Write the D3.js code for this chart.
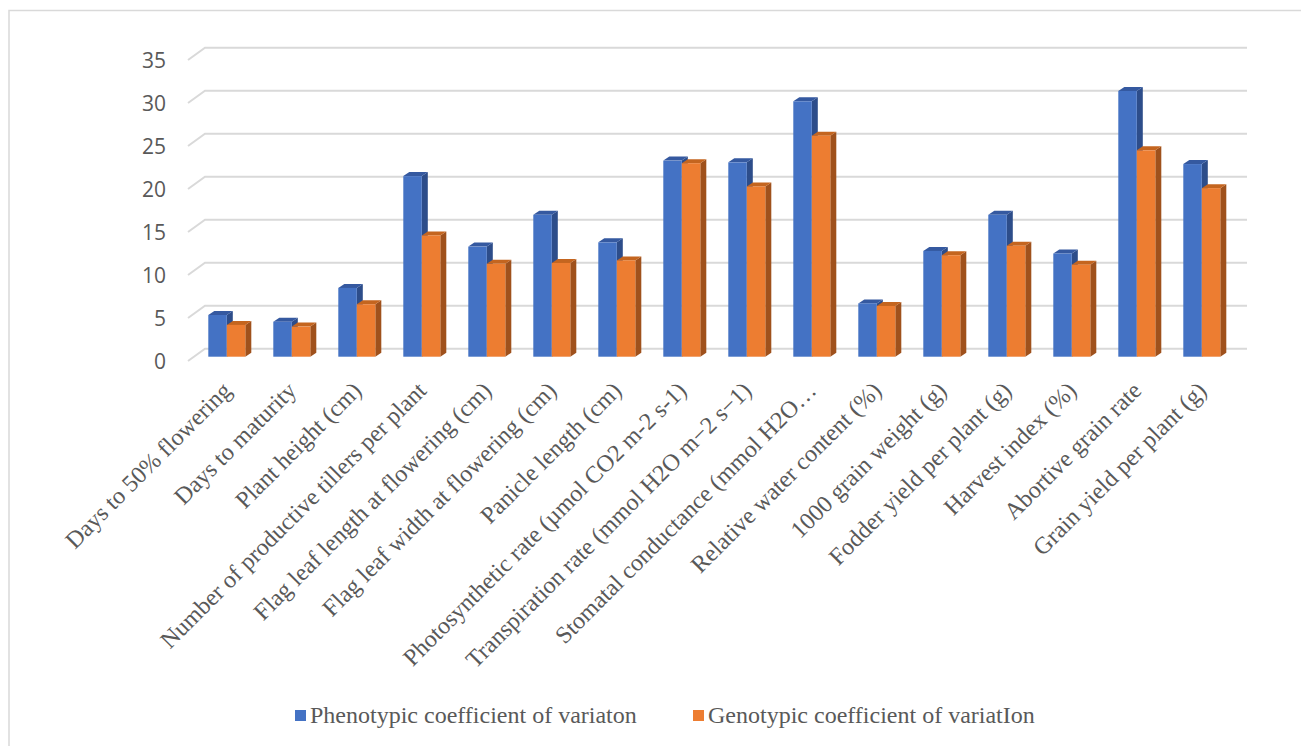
<!DOCTYPE html>
<html>
<head>
<meta charset="utf-8">
<script src="https://cdn.jsdelivr.net/npm/d3@7"></script>
<style>
  html, body { margin: 0; padding: 0; background: #fff; }
  svg { display: block; }
</style>
</head>
<body>
<svg id="chart" width="1301" height="746"></svg>
<script>
const categories = [
  "Days to 50% flowering",
  "Days to maturity",
  "Plant height (cm)",
  "Number of productive tillers per plant",
  "Flag leaf length at flowering (cm)",
  "Flag leaf width at flowering (cm)",
  "Panicle length (cm)",
  "Photosynthetic rate (µmol CO2 m-2 s-1)",
  "Transpiration rate (mmol H2O m\u22122 s\u22121)",
  "Stomatal conductance (mmol H2O\u2026",
  "Relative water content (%)",
  "1000 grain weight (g)",
  "Fodder yield per plant (g)",
  "Harvest index (%)",
  "Abortive grain rate",
  "Grain yield per plant (g)"
];
const seriesNames = ["Phenotypic coefficient of variaton", "Genotypic coefficient of variatIon"];
const pcv = [4.85, 4.07, 8.0, 21.0, 12.8, 16.5, 13.3, 22.8, 22.6, 29.7, 6.2, 12.3, 16.5, 12.0, 30.9, 22.4];
const gcv = [3.7, 3.5, 6.1, 14.1, 10.8, 10.9, 11.2, 22.5, 19.8, 25.7, 5.9, 11.8, 12.9, 10.7, 24.0, 19.6];
const yTicks = [0, 5, 10, 15, 20, 25, 30, 35];

const colors = {
  front: ["#4472C4", "#ED7D31"],
  top:   ["#3559a0", "#c4651f"],
  side:  ["#2d4d8a", "#9f511c"]
};

const svg = d3.select("#chart");
const textColor = "#595959";

// chart frame (only top & left visible)
svg.append("path")
  .attr("d", "M9,746 V10.5 H1301")
  .attr("fill", "none")
  .attr("stroke", "#d9d9d9")
  .attr("stroke-width", 1.5);

const y = d3.scaleLinear().domain([0, 35]).range([356.7, 356.7 - 35 * 8.6]);
const x = d3.scaleBand().domain(categories).range([194.3, 1234.3])
  .paddingInner(28 / 65).paddingOuter(14 / 65);
const xs = d3.scaleBand().domain(seriesNames).range([0, x.bandwidth()]);

const backDy = -8, backX0 = 205, backX1 = 1247;
const frontX = 188, frontDy = 4.3;
const depthX = 6, depthY = 4;

// gridlines (back wall + left slanted)
const grid = svg.append("g");
yTicks.forEach(t => {
  const yb = y(t) + backDy;
  grid.append("path")
    .attr("d", `M${frontX},${y(t) + frontDy} L${backX0},${yb} H${backX1}`)
    .attr("fill", "none")
    .attr("stroke", "#d9d9d9")
    .attr("stroke-width", 2);
});

// y tick labels
svg.append("g").selectAll("text").data(yTicks).join("text")
  .attr("x", 166)
  .attr("y", d => y(d) + frontDy)
  .attr("text-anchor", "end")
  .attr("dominant-baseline", "central")
  .attr("font-family", "'Open Sans', sans-serif")
  .attr("font-size", 21)
  .attr("fill", textColor)
  .text(d => d);

// bars
const seriesData = [pcv, gcv];
const bars = svg.append("g");
categories.forEach((c, i) => {
  seriesData.forEach((vals, s) => {
    const x0 = x(c) + xs(seriesNames[s]);
    const w = xs.bandwidth();
    const y0 = y(0), y1 = y(vals[i]);
    const g = bars.append("g");
    // side
    g.append("path")
      .attr("d", `M${x0 + w},${y1} L${x0 + w + depthX},${y1 - depthY} L${x0 + w + depthX},${y0 - depthY} L${x0 + w},${y0} Z`)
      .attr("fill", colors.side[s]);
    // top
    g.append("path")
      .attr("d", `M${x0},${y1} L${x0 + depthX},${y1 - depthY} L${x0 + w + depthX},${y1 - depthY} L${x0 + w},${y1} Z`)
      .attr("fill", colors.top[s]);
    // front
    g.append("rect")
      .attr("x", x0).attr("y", y1)
      .attr("width", w).attr("height", y0 - y1)
      .attr("fill", colors.front[s]);
  });
});

// x labels
svg.append("g").selectAll("text").data(categories).join("text")
  .attr("transform", d => `translate(${x(d) + x.bandwidth() / 2 + 6},392) rotate(-45)`)
  .attr("text-anchor", "end")
  .attr("font-family", "'Liberation Serif', 'Times New Roman', serif")
  .attr("font-size", 24)
  .attr("fill", textColor)
  .text(d => d);

// legend
const legendX = [295, 693];
const legend = svg.append("g");
seriesNames.forEach((n, s) => {
  legend.append("rect")
    .attr("x", legendX[s]).attr("y", 710)
    .attr("width", 11).attr("height", 11)
    .attr("fill", colors.front[s]);
  legend.append("text")
    .attr("x", legendX[s] + 15).attr("y", 723)
    .attr("font-family", "'Liberation Serif', 'Times New Roman', serif")
    .attr("font-size", 24)
    .attr("fill", textColor)
    .text(n);
});
</script>
</body>
</html>
